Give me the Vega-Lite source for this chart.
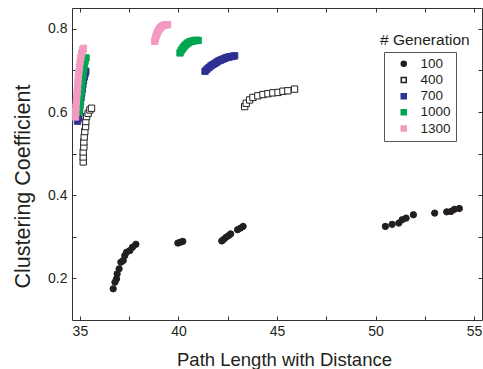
{
  "$schema": "https://vega.github.io/schema/vega-lite/v6.json",
  "width": 410,
  "height": 312,
  "autosize": {"type": "none"},
  "padding": {"left": 72, "top": 8, "right": 1, "bottom": 49},
  "config": {
    "font": "Liberation Sans",
    "view": {"stroke": "#333333", "strokeWidth": 1}
  },
  "title": {"text": "# Generation", "anchor": "start", "frame": "group", "dx": 308, "dy": 45, "fontSize": 15.5, "fontWeight": "normal", "color": "#231f20"},
  "data": {
    "values": [
      {"gen": "100", "path": 36.69, "cc": 0.175},
      {"gen": "100", "path": 36.78, "cc": 0.191},
      {"gen": "100", "path": 36.86, "cc": 0.199},
      {"gen": "100", "path": 36.89, "cc": 0.211},
      {"gen": "100", "path": 36.99, "cc": 0.223},
      {"gen": "100", "path": 37.08, "cc": 0.239},
      {"gen": "100", "path": 37.2, "cc": 0.243},
      {"gen": "100", "path": 37.28, "cc": 0.255},
      {"gen": "100", "path": 37.37, "cc": 0.263},
      {"gen": "100", "path": 37.54, "cc": 0.267},
      {"gen": "100", "path": 37.67, "cc": 0.275},
      {"gen": "100", "path": 37.84, "cc": 0.282},
      {"gen": "100", "path": 39.97, "cc": 0.285},
      {"gen": "100", "path": 40.1, "cc": 0.287},
      {"gen": "100", "path": 40.22, "cc": 0.289},
      {"gen": "100", "path": 42.2, "cc": 0.29},
      {"gen": "100", "path": 42.3, "cc": 0.294},
      {"gen": "100", "path": 42.42, "cc": 0.299},
      {"gen": "100", "path": 42.55, "cc": 0.303},
      {"gen": "100", "path": 42.65, "cc": 0.307},
      {"gen": "100", "path": 43.0, "cc": 0.317},
      {"gen": "100", "path": 43.15, "cc": 0.321},
      {"gen": "100", "path": 43.28, "cc": 0.325},
      {"gen": "100", "path": 50.5, "cc": 0.325},
      {"gen": "100", "path": 50.84, "cc": 0.33},
      {"gen": "100", "path": 51.18, "cc": 0.333},
      {"gen": "100", "path": 51.35, "cc": 0.341},
      {"gen": "100", "path": 51.55, "cc": 0.345},
      {"gen": "100", "path": 51.92, "cc": 0.353},
      {"gen": "100", "path": 53.0, "cc": 0.357},
      {"gen": "100", "path": 53.61, "cc": 0.36},
      {"gen": "100", "path": 53.83, "cc": 0.361},
      {"gen": "100", "path": 54.0, "cc": 0.366},
      {"gen": "100", "path": 54.25, "cc": 0.368},
      {"gen": "400", "path": 35.17, "cc": 0.48},
      {"gen": "400", "path": 35.17, "cc": 0.492},
      {"gen": "400", "path": 35.17, "cc": 0.504},
      {"gen": "400", "path": 35.2, "cc": 0.516},
      {"gen": "400", "path": 35.2, "cc": 0.528},
      {"gen": "400", "path": 35.22, "cc": 0.54},
      {"gen": "400", "path": 35.25, "cc": 0.553},
      {"gen": "400", "path": 35.29, "cc": 0.565},
      {"gen": "400", "path": 35.3, "cc": 0.577},
      {"gen": "400", "path": 35.34, "cc": 0.589},
      {"gen": "400", "path": 35.42, "cc": 0.597},
      {"gen": "400", "path": 35.51, "cc": 0.605},
      {"gen": "400", "path": 35.59, "cc": 0.609},
      {"gen": "400", "path": 43.36, "cc": 0.613},
      {"gen": "400", "path": 43.44, "cc": 0.621},
      {"gen": "400", "path": 43.61, "cc": 0.629},
      {"gen": "400", "path": 43.78, "cc": 0.635},
      {"gen": "400", "path": 44.03, "cc": 0.639},
      {"gen": "400", "path": 44.29, "cc": 0.642},
      {"gen": "400", "path": 44.54, "cc": 0.644},
      {"gen": "400", "path": 44.79, "cc": 0.646},
      {"gen": "400", "path": 45.05, "cc": 0.647},
      {"gen": "400", "path": 45.3, "cc": 0.65},
      {"gen": "400", "path": 45.55, "cc": 0.651},
      {"gen": "400", "path": 45.89, "cc": 0.655},
      {"gen": "700", "path": 34.88, "cc": 0.578},
      {"gen": "700", "path": 34.92, "cc": 0.585},
      {"gen": "700", "path": 34.95, "cc": 0.595},
      {"gen": "700", "path": 34.98, "cc": 0.605},
      {"gen": "700", "path": 35.0, "cc": 0.615},
      {"gen": "700", "path": 35.03, "cc": 0.625},
      {"gen": "700", "path": 35.06, "cc": 0.635},
      {"gen": "700", "path": 35.09, "cc": 0.645},
      {"gen": "700", "path": 35.12, "cc": 0.655},
      {"gen": "700", "path": 35.15, "cc": 0.665},
      {"gen": "700", "path": 35.18, "cc": 0.675},
      {"gen": "700", "path": 35.22, "cc": 0.684},
      {"gen": "700", "path": 35.26, "cc": 0.692},
      {"gen": "700", "path": 35.3, "cc": 0.698},
      {"gen": "700", "path": 41.35, "cc": 0.698},
      {"gen": "700", "path": 41.45, "cc": 0.703},
      {"gen": "700", "path": 41.55, "cc": 0.707},
      {"gen": "700", "path": 41.65, "cc": 0.711},
      {"gen": "700", "path": 41.75, "cc": 0.714},
      {"gen": "700", "path": 41.85, "cc": 0.717},
      {"gen": "700", "path": 41.95, "cc": 0.72},
      {"gen": "700", "path": 42.05, "cc": 0.723},
      {"gen": "700", "path": 42.15, "cc": 0.725},
      {"gen": "700", "path": 42.25, "cc": 0.727},
      {"gen": "700", "path": 42.35, "cc": 0.729},
      {"gen": "700", "path": 42.45, "cc": 0.731},
      {"gen": "700", "path": 42.55, "cc": 0.732},
      {"gen": "700", "path": 42.65, "cc": 0.733},
      {"gen": "700", "path": 42.75, "cc": 0.734},
      {"gen": "700", "path": 42.85, "cc": 0.735},
      {"gen": "1000", "path": 34.95, "cc": 0.6},
      {"gen": "1000", "path": 34.98, "cc": 0.612},
      {"gen": "1000", "path": 35.01, "cc": 0.625},
      {"gen": "1000", "path": 35.04, "cc": 0.638},
      {"gen": "1000", "path": 35.07, "cc": 0.651},
      {"gen": "1000", "path": 35.1, "cc": 0.664},
      {"gen": "1000", "path": 35.13, "cc": 0.677},
      {"gen": "1000", "path": 35.16, "cc": 0.69},
      {"gen": "1000", "path": 35.19, "cc": 0.702},
      {"gen": "1000", "path": 35.22, "cc": 0.713},
      {"gen": "1000", "path": 35.26, "cc": 0.722},
      {"gen": "1000", "path": 35.31, "cc": 0.73},
      {"gen": "1000", "path": 40.08, "cc": 0.742},
      {"gen": "1000", "path": 40.14, "cc": 0.748},
      {"gen": "1000", "path": 40.2, "cc": 0.752},
      {"gen": "1000", "path": 40.26, "cc": 0.756},
      {"gen": "1000", "path": 40.32, "cc": 0.759},
      {"gen": "1000", "path": 40.38, "cc": 0.762},
      {"gen": "1000", "path": 40.45, "cc": 0.765},
      {"gen": "1000", "path": 40.52, "cc": 0.767},
      {"gen": "1000", "path": 40.6, "cc": 0.769},
      {"gen": "1000", "path": 40.68, "cc": 0.77},
      {"gen": "1000", "path": 40.76, "cc": 0.771},
      {"gen": "1000", "path": 40.84, "cc": 0.772},
      {"gen": "1000", "path": 40.92, "cc": 0.772},
      {"gen": "1000", "path": 41.0, "cc": 0.772},
      {"gen": "1300", "path": 34.78, "cc": 0.588},
      {"gen": "1300", "path": 34.79, "cc": 0.6},
      {"gen": "1300", "path": 34.8, "cc": 0.612},
      {"gen": "1300", "path": 34.82, "cc": 0.624},
      {"gen": "1300", "path": 34.84, "cc": 0.636},
      {"gen": "1300", "path": 34.86, "cc": 0.648},
      {"gen": "1300", "path": 34.88, "cc": 0.66},
      {"gen": "1300", "path": 34.9, "cc": 0.672},
      {"gen": "1300", "path": 34.92, "cc": 0.684},
      {"gen": "1300", "path": 34.95, "cc": 0.696},
      {"gen": "1300", "path": 34.98, "cc": 0.708},
      {"gen": "1300", "path": 35.01, "cc": 0.72},
      {"gen": "1300", "path": 35.05, "cc": 0.731},
      {"gen": "1300", "path": 35.09, "cc": 0.741},
      {"gen": "1300", "path": 35.14, "cc": 0.749},
      {"gen": "1300", "path": 35.18, "cc": 0.753},
      {"gen": "1300", "path": 38.8, "cc": 0.77},
      {"gen": "1300", "path": 38.83, "cc": 0.776},
      {"gen": "1300", "path": 38.86, "cc": 0.782},
      {"gen": "1300", "path": 38.9, "cc": 0.787},
      {"gen": "1300", "path": 38.94, "cc": 0.792},
      {"gen": "1300", "path": 38.99, "cc": 0.796},
      {"gen": "1300", "path": 39.04, "cc": 0.8},
      {"gen": "1300", "path": 39.1, "cc": 0.803},
      {"gen": "1300", "path": 39.16, "cc": 0.806},
      {"gen": "1300", "path": 39.23, "cc": 0.808},
      {"gen": "1300", "path": 39.3, "cc": 0.809},
      {"gen": "1300", "path": 39.38, "cc": 0.81},
      {"gen": "1300", "path": 39.45, "cc": 0.81}
    ]
  },
  "layer": [
    {
      "mark": {"type": "point", "filled": true, "size": 40, "strokeWidth": 1, "opacity": 1},
      "encoding": {
        "x": {
          "field": "path", "type": "quantitative",
          "scale": {"domain": [34.6, 55.4], "nice": false, "zero": false},
          "axis": {
            "orient": "bottom", "title": "Path Length with Distance", "titleFontSize": 18.5, "titleFontWeight": "normal", "titleColor": "#231f20", "titleX": 212, "titleY": 45, "titleBaseline": "alphabetic",
            "values": [35, 37.5, 40, 42.5, 45, 47.5, 50, 52.5, 55],
            "labelExpr": "datum.value % 5 === 0 ? datum.label : ''",
            "labelFontSize": 14, "labelColor": "#231f20", "labelPadding": 8,
            "tickSize": -4, "tickColor": "#333333", "domain": false, "grid": false, "labelFlush": false
          }
        },
        "y": {
          "field": "cc", "type": "quantitative",
          "scale": {"domain": [0.1, 0.85], "nice": false, "zero": false},
          "axis": {
            "orient": "left", "title": "Clustering Coefficient", "titleFontSize": 21.5, "titleFontWeight": "normal", "titleColor": "#231f20", "titlePadding": 13, "titleY": 178,
            "values": [0.2, 0.3, 0.4, 0.5, 0.6, 0.7, 0.8],
            "labelExpr": "round(datum.value * 10) % 2 === 0 ? datum.label : ''",
            "labelFontSize": 14, "labelColor": "#231f20", "labelPadding": 9,
            "tickSize": -4, "tickColor": "#333333", "domain": false, "grid": false, "labelFlush": false
          }
        },
        "shape": {
          "field": "gen", "type": "nominal",
          "scale": {"domain": ["100", "400", "700", "1000", "1300"], "range": ["circle", "square", "square", "square", "square"]},
          "legend": {"title": null, "orient": "none", "legendX": 312, "legendY": 44, "strokeColor": "#555555", "padding": 5, "symbolSize": 25, "symbolOffset": 8, "labelOffset": 10, "labelFontSize": 13.5, "labelColor": "#231f20", "rowPadding": 1.2, "labelExpr": "datum.label + '   '"}
        },
        "fill": {
          "field": "gen", "type": "nominal",
          "scale": {"domain": ["100", "400", "700", "1000", "1300"], "range": ["#231f20", "#ffffff", "#2e3192", "#00a651", "#f49ac1"]},
          "legend": {"title": null, "orient": "none", "legendX": 312, "legendY": 44, "strokeColor": "#555555", "padding": 5, "symbolSize": 25, "symbolOffset": 8, "labelOffset": 10, "labelFontSize": 13.5, "labelColor": "#231f20", "rowPadding": 1.2, "labelExpr": "datum.label + '   '"}
        },
        "stroke": {
          "field": "gen", "type": "nominal",
          "scale": {"domain": ["100", "400", "700", "1000", "1300"], "range": ["#231f20", "#231f20", "#2e3192", "#00a651", "#f49ac1"]},
          "legend": {"title": null, "orient": "none", "legendX": 312, "legendY": 44, "strokeColor": "#555555", "padding": 5, "symbolSize": 25, "symbolOffset": 8, "labelOffset": 10, "labelFontSize": 13.5, "labelColor": "#231f20", "rowPadding": 1.2, "labelExpr": "datum.label + '   '"}
        }
      }
    },
    {
      "mark": {"type": "point", "opacity": 0},
      "encoding": {
        "x": {
          "field": "path", "type": "quantitative",
          "axis": {"orient": "top", "title": null, "labels": false, "values": [35, 37.5, 40, 42.5, 45, 47.5, 50, 52.5, 55], "tickSize": -4, "tickColor": "#333333", "domain": false, "grid": false}
        },
        "y": {
          "field": "cc", "type": "quantitative",
          "axis": {"orient": "right", "title": null, "labels": false, "values": [0.2, 0.3, 0.4, 0.5, 0.6, 0.7, 0.8], "tickSize": -4, "tickColor": "#333333", "domain": false, "grid": false}
        }
      }
    }
  ],
  "resolve": {"axis": {"x": "independent", "y": "independent"}}
}
